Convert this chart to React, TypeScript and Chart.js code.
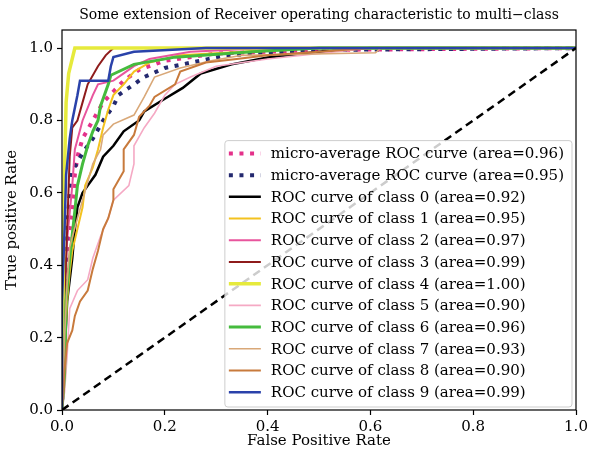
import React, { useEffect, useRef } from "react";
import { Chart, registerables } from "chart.js";

Chart.register(...registerables);

const TITLE = "Some extension of Receiver operating characteristic to multi\u2212class";
const X_LABEL = "False Positive Rate";
const Y_LABEL = "True positive Rate";
const X_TICKS = [0, 0.2, 0.4, 0.6, 0.8, 1.0];
const Y_TICKS = [0, 0.2, 0.4, 0.6, 0.8, 1.0];

const LABELS = [
  "micro-average ROC curve (area=0.96)",
  "micro-average ROC curve (area=0.95)",
  "ROC curve of class 0 (area=0.92)",
  "ROC curve of class 1 (area=0.95)",
  "ROC curve of class 2 (area=0.97)",
  "ROC curve of class 3 (area=0.99)",
  "ROC curve of class 4 (area=1.00)",
  "ROC curve of class 5 (area=0.90)",
  "ROC curve of class 6 (area=0.96)",
  "ROC curve of class 7 (area=0.93)",
  "ROC curve of class 8 (area=0.90)",
  "ROC curve of class 9 (area=0.99)",
];

const COLORS = [
  "#e4318a", "#24296f", "#000000", "#f3c21f", "#e8559d", "#8e1b1b",
  "#e6ea3c", "#f5a9c4", "#45bb3d", "#d9a878", "#c87a3c", "#2a42aa",
];
const WIDTHS = [4, 4, 2.5, 2, 2, 2, 3.5, 1.6, 3, 1.6, 2, 2.5];
const DOTTED = [true, true, false, false, false, false, false, false, false, false, false, false];

// micro-average
const fprMicro = [0, 0.005, 0.01, 0.02, 0.025, 0.03, 0.04, 0.06, 0.08, 0.1, 0.12, 0.15, 0.2, 0.3, 0.5, 1];
const tprMicro = [0, 0.3, 0.45, 0.55, 0.65, 0.7, 0.75, 0.8, 0.85, 0.88, 0.91, 0.94, 0.965, 0.985, 0.995, 1];
// second average
const fprMacro = [0, 0.005, 0.01, 0.015, 0.02, 0.04, 0.06, 0.08, 0.1, 0.11, 0.13, 0.16, 0.2, 0.32, 0.5, 1];
const tprMacro = [0, 0.35, 0.5, 0.6, 0.66, 0.71, 0.75, 0.8, 0.84, 0.87, 0.89, 0.92, 0.945, 0.98, 0.995, 1];
// class 0
const fpr0 = [0, 0.005, 0.01, 0.02, 0.025, 0.03, 0.04, 0.05, 0.065, 0.08, 0.1, 0.12, 0.15, 0.16, 0.2, 0.235, 0.27, 0.33, 0.4, 0.5, 0.6, 1];
const tpr0 = [0, 0.15, 0.3, 0.42, 0.5, 0.56, 0.6, 0.62, 0.65, 0.7, 0.73, 0.77, 0.8, 0.825, 0.86, 0.89, 0.93, 0.955, 0.974, 0.99, 1, 1];
// class 1
const fpr1 = [0, 0.005, 0.01, 0.015, 0.02, 0.03, 0.04, 0.045, 0.06, 0.07, 0.08, 0.09, 0.1, 0.12, 0.14, 0.17, 0.23, 0.35, 0.45, 1];
const tpr1 = [0, 0.15, 0.3, 0.38, 0.44, 0.5, 0.56, 0.62, 0.67, 0.72, 0.78, 0.83, 0.87, 0.9, 0.935, 0.96, 0.98, 0.99, 1, 1];
// class 2
const fpr2 = [0, 0.005, 0.01, 0.02, 0.025, 0.04, 0.06, 0.07, 0.1, 0.12, 0.14, 0.17, 0.25, 0.4, 1];
const tpr2 = [0, 0.3, 0.47, 0.62, 0.72, 0.8, 0.87, 0.9, 0.91, 0.93, 0.95, 0.97, 0.99, 1, 1];
// class 3
const fpr3 = [0, 0.005, 0.01, 0.015, 0.02, 0.03, 0.04, 0.05, 0.07, 0.085, 0.1, 1];
const tpr3 = [0, 0.3, 0.5, 0.7, 0.78, 0.8, 0.85, 0.9, 0.95, 0.98, 1, 1];
// class 4
const fpr4 = [0, 0.004, 0.008, 0.013, 0.025, 1];
const tpr4 = [0, 0.6, 0.85, 0.93, 1, 1];
// class 5
const fpr5 = [0, 0.005, 0.01, 0.015, 0.03, 0.05, 0.06, 0.075, 0.09, 0.1, 0.13, 0.14, 0.14, 0.16, 0.18, 0.2, 0.22, 0.25, 0.3, 0.4, 0.5, 0.6, 1];
const tpr5 = [0, 0.05, 0.15, 0.28, 0.33, 0.36, 0.42, 0.48, 0.53, 0.58, 0.62, 0.68, 0.73, 0.78, 0.82, 0.87, 0.9, 0.92, 0.95, 0.97, 0.985, 1, 1];
// class 6
const fpr6 = [0, 0.005, 0.008, 0.015, 0.025, 0.03, 0.04, 0.05, 0.06, 0.07, 0.075, 0.09, 0.095, 0.14, 0.22, 0.37, 0.5, 1];
const tpr6 = [0, 0.1, 0.3, 0.42, 0.55, 0.62, 0.68, 0.73, 0.77, 0.8, 0.84, 0.9, 0.925, 0.955, 0.975, 0.99, 1, 1];
// class 7
const fpr7 = [0, 0.005, 0.01, 0.015, 0.03, 0.04, 0.05, 0.06, 0.075, 0.08, 0.1, 0.14, 0.16, 0.18, 0.23, 0.29, 0.35, 0.61, 0.62, 1];
const tpr7 = [0, 0.2, 0.35, 0.45, 0.53, 0.58, 0.63, 0.68, 0.72, 0.76, 0.79, 0.815, 0.865, 0.92, 0.945, 0.965, 0.98, 0.987, 1, 1];
// class 8
const fpr8 = [0, 0.003, 0.005, 0.01, 0.02, 0.025, 0.035, 0.05, 0.06, 0.07, 0.08, 0.09, 0.1, 0.1, 0.12, 0.12, 0.14, 0.15, 0.17, 0.18, 0.22, 0.23, 0.28, 0.34, 0.4, 0.5, 0.6, 1];
const tpr8 = [0, 0.05, 0.11, 0.185, 0.22, 0.26, 0.3, 0.33, 0.39, 0.44, 0.5, 0.53, 0.58, 0.61, 0.66, 0.72, 0.76, 0.81, 0.84, 0.865, 0.9, 0.935, 0.96, 0.97, 0.98, 0.99, 1, 1];
// class 9
const fpr9 = [0, 0, 0.005, 0.008, 0.015, 0.02, 0.03, 0.035, 0.09, 0.095, 0.1, 0.14, 0.28, 1];
const tpr9 = [0, 0.3, 0.5, 0.65, 0.75, 0.8, 0.87, 0.91, 0.91, 0.95, 0.975, 0.99, 1, 1];

const FPRS = [fprMicro, fprMacro, fpr0, fpr1, fpr2, fpr3, fpr4, fpr5, fpr6, fpr7, fpr8, fpr9];
const TPRS = [tprMicro, tprMacro, tpr0, tpr1, tpr2, tpr3, tpr4, tpr5, tpr6, tpr7, tpr8, tpr9];

const DIAG_X = [0, 1];
const DIAG_Y = [0, 1];

const SERIF = "'DejaVu Serif', 'Liberation Serif', serif";

const framePlugin = {
  id: "frameAndLegend",
  afterDatasetsDraw(chart: any) {
    const { ctx, chartArea } = chart;
    ctx.save();
    // frame
    ctx.strokeStyle = "#000";
    ctx.lineWidth = 1.2;
    ctx.strokeRect(chartArea.left, chartArea.top, chartArea.right - chartArea.left, chartArea.bottom - chartArea.top);

    // title centred over the axes
    ctx.fillStyle = "#000";
    ctx.font = `14px ${SERIF}`;
    ctx.textAlign = "center";
    ctx.textBaseline = "middle";
    ctx.fillText(TITLE, (chartArea.left + chartArea.right) / 2, 15);

    // legend
    const fontSize = 15;
    ctx.font = `${fontSize}px ${SERIF}`;
    let maxW = 0;
    for (const l of LABELS) maxW = Math.max(maxW, ctx.measureText(l).width);
    const rowH = 21.7;
    const handleLen = 32;
    const padL = 4, gap = 10, padR = 8, padT = 2, padB = 4;
    const w = padL + handleLen + gap + maxW + padR;
    const h = padT + rowH * LABELS.length + padB;
    const right = chartArea.right - 4;
    const bottom = chartArea.bottom - 3;
    const x0 = right - w;
    const y0 = bottom - h;
    const r = 3;
    ctx.beginPath();
    ctx.moveTo(x0 + r, y0);
    ctx.lineTo(x0 + w - r, y0);
    ctx.quadraticCurveTo(x0 + w, y0, x0 + w, y0 + r);
    ctx.lineTo(x0 + w, y0 + h - r);
    ctx.quadraticCurveTo(x0 + w, y0 + h, x0 + w - r, y0 + h);
    ctx.lineTo(x0 + r, y0 + h);
    ctx.quadraticCurveTo(x0, y0 + h, x0, y0 + h - r);
    ctx.lineTo(x0, y0 + r);
    ctx.quadraticCurveTo(x0, y0, x0 + r, y0);
    ctx.closePath();
    ctx.fillStyle = "rgba(255,255,255,0.8)";
    ctx.fill();
    ctx.strokeStyle = "rgba(200,200,200,0.9)";
    ctx.lineWidth = 1;
    ctx.stroke();

    ctx.textBaseline = "middle";
    ctx.textAlign = "left";
    LABELS.forEach((label, i) => {
      const cy = y0 + padT + rowH * (i + 0.5);
      ctx.beginPath();
      ctx.strokeStyle = COLORS[i];
      ctx.lineWidth = WIDTHS[i];
      ctx.lineCap = "butt";
      if (DOTTED[i]) ctx.setLineDash([4, 6.6]);
      else ctx.setLineDash([]);
      ctx.moveTo(x0 + padL, cy);
      ctx.lineTo(x0 + padL + handleLen, cy);
      ctx.stroke();
      ctx.setLineDash([]);
      ctx.fillStyle = "#000";
      ctx.fillText(label, x0 + padL + handleLen + gap, cy + 1);
    });
    ctx.restore();
  },
};

export default function App() {
  const ref = useRef<HTMLCanvasElement | null>(null);
  useEffect(() => {
    if (!ref.current) return;
    const datasets: any[] = LABELS.map((label, i) => ({
      label,
      data: FPRS[i].map((x, j) => ({ x, y: TPRS[i][j] })),
      borderColor: COLORS[i],
      backgroundColor: COLORS[i],
      borderWidth: WIDTHS[i],
      borderDash: DOTTED[i] ? [4, 6.6] : [],
      borderCapStyle: "butt",
      borderJoinStyle: "miter",
      pointRadius: 0,
      fill: false,
      tension: 0,
      order: -i,
    }));
    datasets.push({
      label: "diag",
      data: DIAG_X.map((x, j) => ({ x, y: DIAG_Y[j] })),
      borderColor: "#000",
      borderWidth: 2.5,
      borderDash: [8, 5],
      pointRadius: 0,
      fill: false,
      order: -100,
    });
    const tickFont = { family: SERIF, size: 15 };
    const chart = new Chart(ref.current, {
      type: "line",
      data: { datasets },
      options: {
        animation: false,
        responsive: false,
        maintainAspectRatio: false,
        layout: { padding: { left: 0, right: 15, top: 30, bottom: 0 } },
        plugins: {
          legend: { display: false },
          tooltip: { enabled: false },
          title: { display: false },
        },
        scales: {
          x: {
            type: "linear",
            min: 0,
            max: 1,
            afterBuildTicks: (s: any) => { s.ticks = X_TICKS.map((v) => ({ value: v })); },
            afterFit: (s: any) => { s.height = 49; },
            border: { display: false },
            grid: { display: true, drawOnChartArea: false, drawTicks: true, tickLength: 5, color: "#000", tickWidth: 1.2 },
            ticks: { color: "#000", font: tickFont, padding: 3, maxRotation: 0, callback: (v: any) => Number(v).toFixed(1) },
            title: { display: true, text: X_LABEL, color: "#000", font: { family: SERIF, size: 15 }, padding: { top: 0, bottom: 9 } },
          },
          y: {
            type: "linear",
            min: 0,
            max: 1.05,
            afterBuildTicks: (s: any) => { s.ticks = Y_TICKS.map((v) => ({ value: v })); },
            afterFit: (s: any) => { s.width = 62; },
            border: { display: false },
            grid: { display: true, drawOnChartArea: false, drawTicks: true, tickLength: 5, color: "#000", tickWidth: 1.2 },
            ticks: { color: "#000", font: tickFont, padding: 4, callback: (v: any) => Number(v).toFixed(1) },
            title: { display: true, text: Y_LABEL, color: "#000", font: { family: SERIF, size: 15 }, padding: { top: 3, bottom: 0 } },
          },
        },
      },
      plugins: [framePlugin],
    });
    return () => chart.destroy();
  }, []);
  return (
    <div style={{ position: "fixed", left: 0, top: 0, width: 591, height: 459, background: "#fff" }}>
      <canvas ref={ref} width={591} height={459} style={{ display: "block", width: 591, height: 459 }} />
    </div>
  );
}
